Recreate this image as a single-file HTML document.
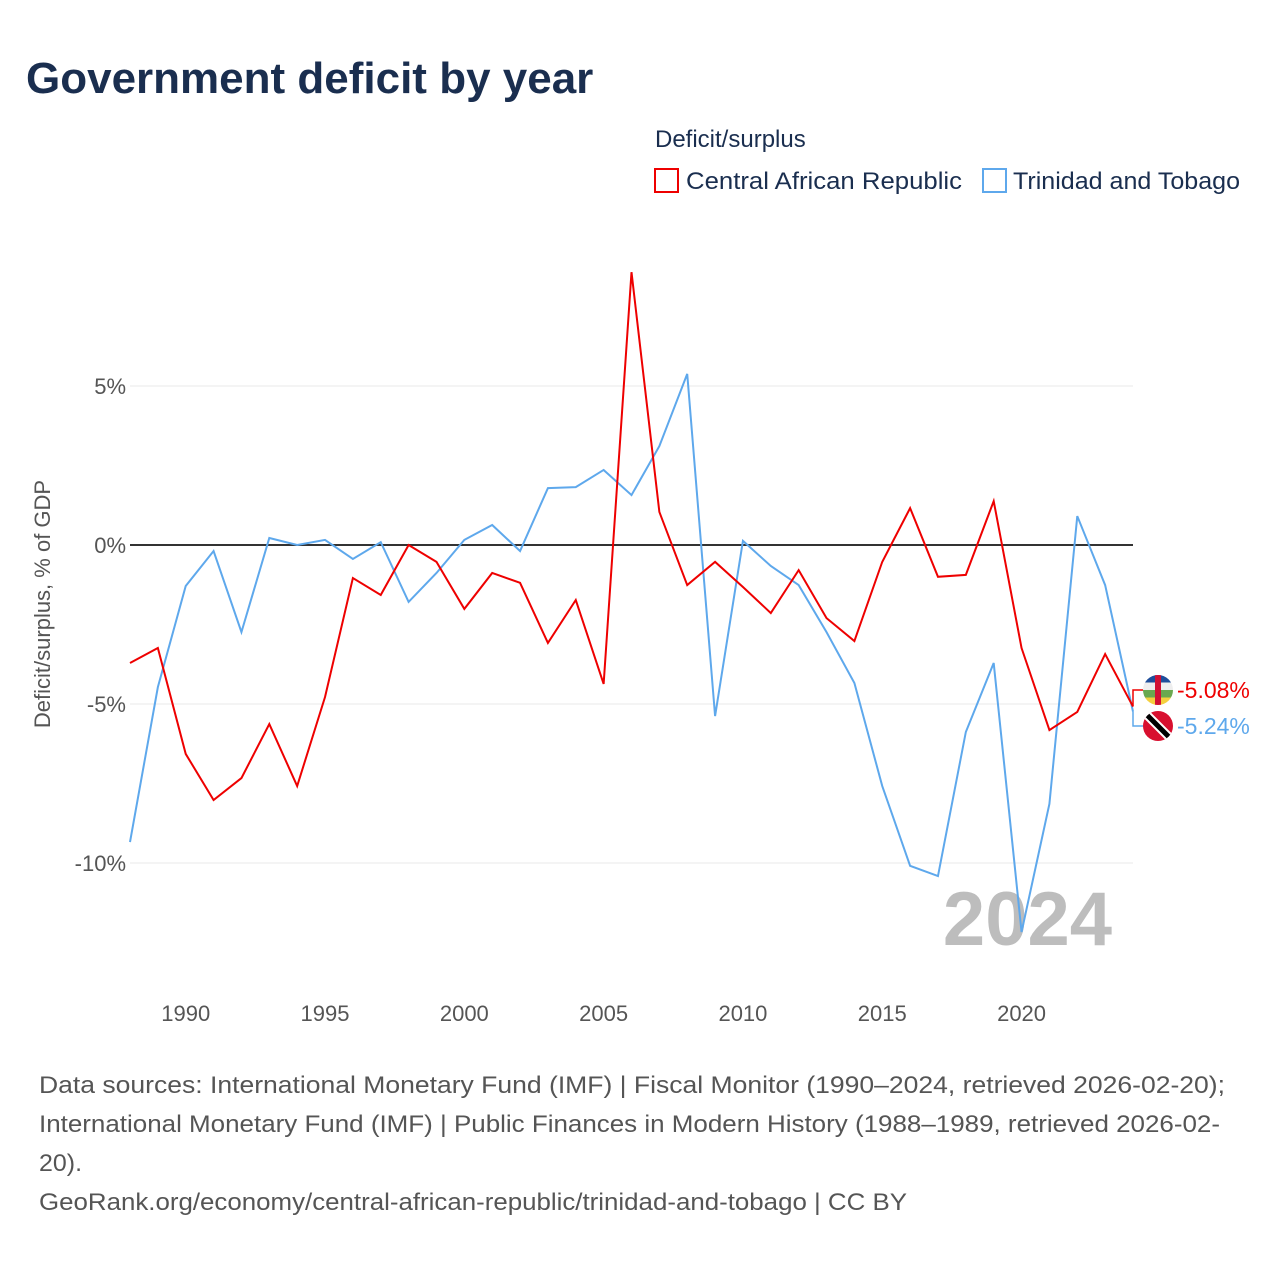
<!DOCTYPE html>
<html><head><meta charset="utf-8"><style>
body{margin:0;width:1280px;height:1280px;background:#fff;font-family:"Liberation Sans",sans-serif;overflow:hidden}
</style></head><body>
<svg id="c" width="1280" height="1280" style="position:absolute;left:0;top:0">
<text x="26" y="93" font-size="44" font-weight="bold" fill="#1a2e4f">Government deficit by year</text>
<text x="655" y="147" font-size="24" fill="#1a2e4f">Deficit/surplus</text>
<g><rect x="655" y="169" width="23" height="23" fill="none" stroke="#ee0000" stroke-width="2"/><text x="686" y="189" font-size="24" fill="#1a2e4f" textLength="276" lengthAdjust="spacingAndGlyphs">Central African Republic</text></g>
<g><rect x="983" y="169" width="23" height="23" fill="none" stroke="#5ea8ec" stroke-width="2"/><text x="1013" y="189" font-size="24" fill="#1a2e4f" textLength="227" lengthAdjust="spacingAndGlyphs">Trinidad and Tobago</text></g>
<text transform="translate(50,604) rotate(-90)" text-anchor="middle" font-size="22" fill="#555">Deficit/surplus, % of GDP</text>
<text x="1112" y="945" text-anchor="end" font-size="76" font-weight="bold" fill="#bdbdbd">2024</text>
<g id="grid"></g><g id="lines"></g>
<g font-size="24" fill="#555">
<text x="39" y="1093" textLength="1186" lengthAdjust="spacingAndGlyphs">Data sources: International Monetary Fund (IMF) | Fiscal Monitor (1990–2024, retrieved 2026-02-20);</text>
<text x="39" y="1132" textLength="1181" lengthAdjust="spacingAndGlyphs">International Monetary Fund (IMF) | Public Finances in Modern History (1988–1989, retrieved 2026-02-</text>
<text x="39" y="1171" textLength="43" lengthAdjust="spacingAndGlyphs">20).</text>
<text x="39" y="1210" textLength="868" lengthAdjust="spacingAndGlyphs">GeoRank.org/economy/central-african-republic/trinidad-and-tobago | CC BY</text>
</g>
</svg>
<script>
const years=[];for(let y=1988;y<=2024;y++)years.push(y);
const car=[-3.71,-3.24,-6.57,-8.02,-7.33,-5.63,-7.58,-4.78,-1.04,-1.57,0,-0.53,-2.01,-0.88,-1.19,-3.08,-1.73,-4.37,8.58,1.04,-1.26,-0.53,-1.32,-2.14,-0.79,-2.30,-3.02,-0.53,1.16,-1.0,-0.94,1.38,-3.24,-5.82,-5.25,-3.43,-5.08];
const tt=[-9.34,-4.47,-1.29,-0.19,-2.74,0.22,0,0.16,-0.44,0.09,-1.79,-0.88,0.16,0.63,-0.19,1.79,1.82,2.36,1.57,3.11,5.38,-5.38,0.13,-0.66,-1.26,-2.74,-4.34,-7.58,-10.09,-10.41,-5.88,-3.71,-12.17,-8.14,0.91,-1.26,-5.24];
const yTicks=[5,0,-5,-10];
const xTicks=[1990,1995,2000,2005,2010,2015,2020];
const X=y=>130+(y-1988)*(1003/36);
const Y=v=>545-v*31.8;
const NS="http://www.w3.org/2000/svg";
function mk(t,a,p){const e=document.createElementNS(NS,t);for(const k in a)e.setAttribute(k,a[k]);p.appendChild(e);return e;}
const grid=document.getElementById('grid'),lines=document.getElementById('lines');
yTicks.forEach(v=>{
 const l=mk('line',{x1:130,x2:1133,y1:Y(v),y2:Y(v),stroke:v===0?'#333':'#e8e8e8','stroke-width':v===0?2:1},grid);
 
 
 const t=mk('text',{x:126,y:Y(v)+8,'text-anchor':'end','font-size':22,fill:'#555'},grid);
 t.textContent=v+'%';
 
 
});
xTicks.forEach(v=>{
 const t=mk('text',{x:X(v),y:1021,'text-anchor':'middle','font-size':22,fill:'#555'},grid);
 t.textContent=v;
 
 
});
function series(d,c,n){
 const p=mk('polyline',{points:d.map((v,i)=>X(years[i])+','+Y(v)).join(' '),fill:'none',stroke:c,'stroke-width':2},lines);
 
 
}
series(tt,'#5ea8ec','line-trinidad-and-tobago');
series(car,'#ee0000','line-central-african-republic');
const last=years.length-1;
const ly1=Y(car[last]),ly2=Y(tt[last]);
const lab1=690,lab2=726;
mk('polyline',{points:`1133,${ly1} 1133,${lab1} 1143,${lab1}`,fill:'none',stroke:'#ee0000','stroke-width':1.5},lines);
mk('polyline',{points:`1133,${ly2} 1133,${lab2} 1143,${lab2}`,fill:'none',stroke:'#5ea8ec','stroke-width':1.5},lines);
const f1=mk('g',{},lines);
const cp=mk('clipPath',{id:'cc1'},f1);mk('circle',{cx:1158,cy:lab1,r:15},cp);
const g1=mk('g',{'clip-path':'url(#cc1)'},f1);
[['#1f4e9b',0],['#eeeeee',7.5],['#6aa84f',15],['#f4d03f',22.5]].forEach(([c,o])=>mk('rect',{x:1143,y:lab1-15+o,width:30,height:7.5,fill:c},g1));
mk('rect',{x:1155,y:lab1-15,width:6,height:30,fill:'#d21034'},g1);
const f2=mk('g',{},lines);
const cp2=mk('clipPath',{id:'cc2'},f2);mk('circle',{cx:1158,cy:lab2,r:15},cp2);
const g2=mk('g',{'clip-path':'url(#cc2)'},f2);
mk('rect',{x:1143,y:lab2-15,width:30,height:30,fill:'#d8102f'},g2);
mk('line',{x1:1146,y1:lab2-12,x2:1170,y2:lab2+12,stroke:'#fff','stroke-width':9},g2);
mk('line',{x1:1146,y1:lab2-12,x2:1170,y2:lab2+12,stroke:'#000','stroke-width':5},g2);
const t1=mk('text',{x:1177,y:lab1+8,'font-size':23,fill:'#ee0000'},lines);t1.textContent=car[last].toFixed(2)+'%';

const t2=mk('text',{x:1177,y:lab2+8,'font-size':23,fill:'#5ea8ec'},lines);t2.textContent=tt[last].toFixed(2)+'%';

</script>
</body></html>
